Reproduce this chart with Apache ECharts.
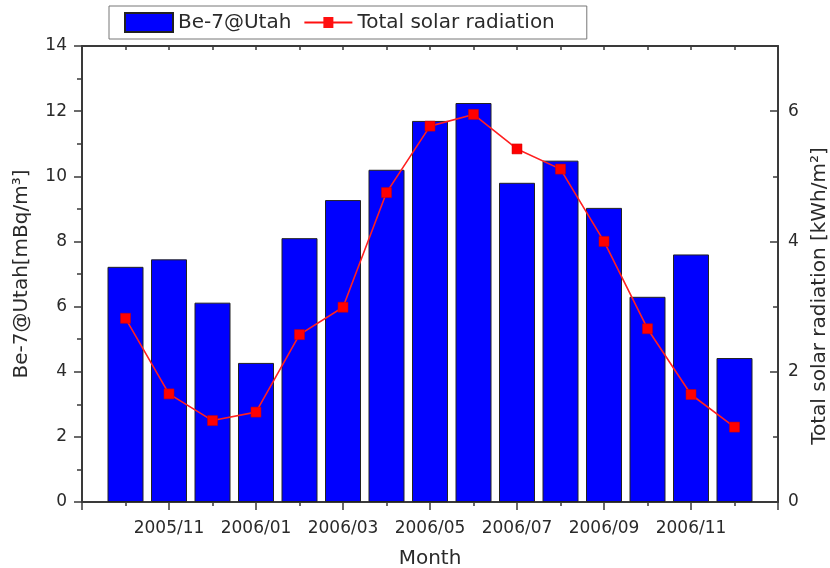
<!DOCTYPE html>
<html>
<head>
<meta charset="utf-8">
<script src="https://cdn.jsdelivr.net/npm/echarts@6/dist/echarts.min.js"></script>
<style>
html,body{margin:0;padding:0;background:#fff;}
#chart{width:830px;height:568px;}
</style>
</head>
<body>
<div id="chart"></div>
<script>
// Months (one bar per month)
var months = ["2005/10","2005/11","2005/12","2006/01","2006/02","2006/03","2006/04","2006/05",
              "2006/06","2006/07","2006/08","2006/09","2006/10","2006/11","2006/12"];
// Be-7 concentration at Utah [mBq/m3]
var be7 = [7.22, 7.45, 6.12, 4.27, 8.1, 9.27, 10.2, 11.7, 12.25, 9.8, 10.48, 9.03, 6.3, 7.6, 4.42];
// Total solar radiation [kWh/m2]
var solar = [2.82, 1.66, 1.25, 1.38, 2.57, 2.99, 4.75, 5.77, 5.95, 5.42, 5.11, 4.0, 2.66, 1.65, 1.15];
// Labelled ticks on the month axis
var tickLabels = ["2005/11","2006/01","2006/03","2006/05","2006/07","2006/09","2006/11"];

var FONT = "DejaVu Sans";
var TXT = "#2a2a2a";
var AX = "#3a3a3a";

var barData = be7.map(function (v, i) { return [i + 1, v]; });
var lineData = solar.map(function (v, i) { return [i + 1, v]; });

function monthLabel(v) {
  var m = months[v - 1];
  return (m && tickLabels.indexOf(m) >= 0) ? m : "";
}

// legend icon for the line series: thin line with a small square in the middle
var lineIcon = "path://M0,8.5h19v-4.5h10v4.5h19v2h-19v4.5h-10v-4.5h-19z";

var chart = echarts.init(document.getElementById("chart"), null, {renderer: "canvas"});
chart.setOption({
  animation: false,
  backgroundColor: "#fff",
  textStyle: {fontFamily: FONT, color: TXT},
  legend: {
    left: 109, top: 6,
    padding: [6, 32, 6, 15],
    itemGap: 13,
    itemWidth: 48, itemHeight: 19,
    borderColor: "#777", borderWidth: 1,
    textStyle: {fontFamily: FONT, fontSize: 20, color: TXT},
    data: [
      {name: "Be-7@Utah", icon: "rect"},
      {name: "Total solar radiation", icon: lineIcon, itemStyle: {color: "#ff1010", borderWidth: 0}}
    ]
  },
  grid: {left: 82, right: 52, top: 46, bottom: 66, containLabel: false, outerBoundsMode: "none"},
  xAxis: [{
    type: "value", min: 0, max: 16, interval: 2,
    name: "Month", nameLocation: "middle", nameGap: 47,
    nameTextStyle: {fontFamily: FONT, fontSize: 20, color: TXT},
    axisLine: {show: true, onZero: false, lineStyle: {color: AX, width: 2}},
    axisTick: {show: true, inside: false, length: 8, lineStyle: {color: AX, width: 1.5}},
    minorTick: {show: true, splitNumber: 2, length: 4, lineStyle: {color: AX, width: 1.5}},
    splitLine: {show: false}, minorSplitLine: {show: false},
    axisLabel: {fontFamily: FONT, fontSize: 17, color: TXT, margin: 18,
      showMinLabel: false, showMaxLabel: false,
      formatter: function (v) { return monthLabel(v); }}
  }, {
    type: "value", min: 0, max: 16, interval: 2, position: "top",
    axisLine: {show: true, onZero: false, lineStyle: {color: AX, width: 2}},
    axisTick: {show: true, inside: true, length: 4, lineStyle: {color: AX, width: 1.5}},
    minorTick: {show: true, splitNumber: 2, length: 4, lineStyle: {color: AX, width: 1.5}},
    splitLine: {show: false}, minorSplitLine: {show: false}, axisLabel: {show: false}
  }],
  yAxis: [{
    type: "value", min: 0, max: 14, interval: 2,
    name: "Be-7@Utah[mBq/m³]", nameLocation: "middle", nameGap: 50, nameRotate: 90,
    nameTextStyle: {fontFamily: FONT, fontSize: 20, color: TXT},
    axisLine: {show: true, onZero: false, lineStyle: {color: AX, width: 2}},
    axisTick: {show: true, inside: false, length: 8, lineStyle: {color: AX, width: 1.5}},
    minorTick: {show: true, splitNumber: 2, length: 5, lineStyle: {color: AX, width: 1.5}},
    splitLine: {show: false}, minorSplitLine: {show: false},
    axisLabel: {fontFamily: FONT, fontSize: 17, color: TXT, margin: 15}
  }, {
    type: "value", min: 0, max: 7, interval: 2, position: "right",
    name: "Total solar radiation [kWh/m²]", nameLocation: "middle", nameGap: 29, nameRotate: 90,
    nameTextStyle: {fontFamily: FONT, fontSize: 20, color: TXT, padding: [0, 44, 0, 0]},
    axisLine: {show: true, onZero: false, lineStyle: {color: AX, width: 2}},
    axisTick: {show: true, inside: true, length: 8, lineStyle: {color: AX, width: 1.5}},
    minorTick: {show: true, splitNumber: 2, length: 5, lineStyle: {color: AX, width: 1.5}},
    splitLine: {show: false}, minorSplitLine: {show: false},
    axisLabel: {fontFamily: FONT, fontSize: 17, color: TXT, margin: 10, showMaxLabel: false}
  }],
  series: [{
    name: "Be-7@Utah", type: "bar",
    xAxisIndex: 0, yAxisIndex: 0,
    barWidth: 36,
    itemStyle: {color: "#0000ff", borderColor: "#222", borderWidth: 1},
    data: barData
  }, {
    name: "Total solar radiation", type: "line",
    xAxisIndex: 0, yAxisIndex: 1,
    symbol: "rect", symbolSize: 10,
    lineStyle: {color: "#ff2020", width: 1.6},
    itemStyle: {color: "#ff0000", borderColor: "#cc0000", borderWidth: 0.5},
    data: lineData,
    z: 5
  }]
});
</script>
</body>
</html>
